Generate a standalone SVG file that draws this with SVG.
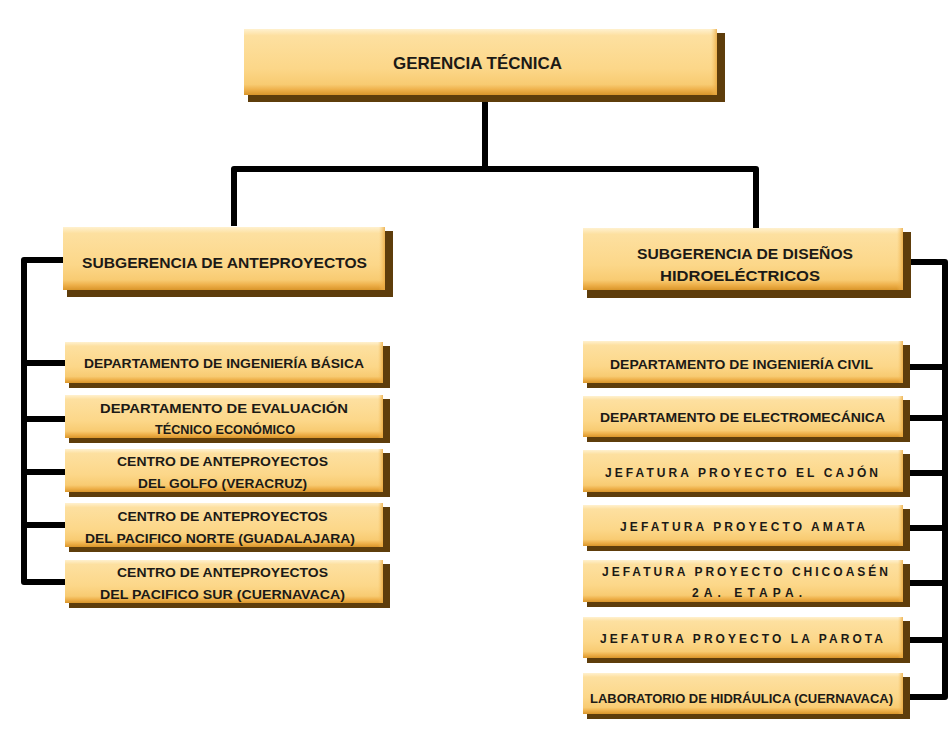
<svg xmlns="http://www.w3.org/2000/svg" width="948" height="740" viewBox="0 0 948 740">
  <style>
    .shadow { fill: #5e3d0b; }
    .face { fill: url(#faceFill); }
    .rim { fill: url(#rimFill); }
    .label { font-family: "Liberation Sans", Arial, sans-serif; font-weight: bold; fill: #1c1a16; text-anchor: middle; }
    .big { font-size: 17px; }
    .mid { font-size: 15.5px; }
    .small { font-size: 12px; }
    .small13 { font-size: 13px; }
    .wire { fill: none; stroke: #000; stroke-width: 6; stroke-linejoin: round; }
  </style>
  <defs>
    <linearGradient id="faceFill" x1="0" y1="0" x2="0" y2="1">
      <stop offset="0" stop-color="#fff1cf"/>
      <stop offset="0.1" stop-color="#fde0a0"/>
      <stop offset="0.6" stop-color="#fcd789"/>
      <stop offset="0.84" stop-color="#f8cb72"/>
      <stop offset="0.92" stop-color="#eeb04a"/>
      <stop offset="1" stop-color="#d9952a"/>
    </linearGradient>
    <linearGradient id="rimFill" x1="0" y1="0" x2="1" y2="0">
      <stop offset="0" stop-color="#f3bd5c" stop-opacity="0"/>
      <stop offset="1" stop-color="#eaa83f" stop-opacity="0.8"/>
    </linearGradient>
  </defs>

  <rect width="948" height="740" fill="#ffffff"/>

  <!-- connectors -->
  <g id="connectors">
    <path class="wire" d="M485 100 V169"/>
    <path class="wire" d="M234 226 V169 H756 V228"/>
    <path class="wire" d="M63 260 H24 V582 H65"/>
    <path class="wire" d="M24 363 H65 M24 419 H65 M24 472 H65 M24 525 H65"/>
    <path class="wire" d="M910 262 H945 V697 H910"/>
    <path class="wire" d="M910 367 H945 M910 418 H945 M910 473 H945 M910 528 H945 M910 583 H945 M910 640 H945"/>
  </g>

  <!-- top level -->
  <g id="gerencia-tecnica">
    <rect class="shadow" x="248" y="33" width="477" height="69"/>
    <rect class="face" x="244" y="29" width="473" height="66"/>
    <rect class="rim" x="711" y="29" width="6" height="66"/>
    <text class="label big" x="477.5" y="69" textLength="169" lengthAdjust="spacingAndGlyphs">GERENCIA TÉCNICA</text>
  </g>

  <!-- second level -->
  <g id="subgerencia-anteproyectos">
    <rect class="shadow" x="67" y="231" width="326" height="66"/>
    <rect class="face" x="63" y="227" width="322" height="63"/>
    <rect class="rim" x="379" y="227" width="6" height="63"/>
    <text class="label mid" x="224.5" y="267.5" textLength="285" lengthAdjust="spacingAndGlyphs">SUBGERENCIA DE ANTEPROYECTOS</text>
  </g>
  <g id="subgerencia-disenos">
    <rect class="shadow" x="587" y="232" width="324" height="66"/>
    <rect class="face" x="583" y="228" width="320" height="62"/>
    <rect class="rim" x="897" y="228" width="6" height="62"/>
    <text class="label mid" x="745" y="258.5" textLength="216" lengthAdjust="spacingAndGlyphs">SUBGERENCIA DE DISEÑOS</text>
    <text class="label mid" x="740" y="280.5" textLength="160" lengthAdjust="spacingAndGlyphs">HIDROELÉCTRICOS</text>
  </g>

  <!-- departments under anteproyectos -->
  <g id="depto-ingenieria-basica">
    <rect class="shadow" x="69" y="346" width="321" height="42"/>
    <rect class="face" x="65" y="342" width="318" height="41"/>
    <rect class="rim" x="378" y="342" width="5" height="41"/>
    <text class="label small" x="224" y="368" textLength="280" lengthAdjust="spacingAndGlyphs">DEPARTAMENTO DE INGENIERÍA BÁSICA</text>
  </g>
  <g id="depto-evaluacion">
    <rect class="shadow" x="69" y="399" width="321" height="44"/>
    <rect class="face" x="65" y="395" width="318" height="43"/>
    <rect class="rim" x="378" y="395" width="5" height="43"/>
    <text class="label small" x="224" y="413" textLength="248" lengthAdjust="spacingAndGlyphs">DEPARTAMENTO DE EVALUACIÓN</text>
    <text class="label small13" x="225" y="434" textLength="140" lengthAdjust="spacingAndGlyphs">TÉCNICO ECONÓMICO</text>
  </g>
  <g id="centro-golfo">
    <rect class="shadow" x="69" y="453" width="321" height="44"/>
    <rect class="face" x="65" y="449" width="318" height="43"/>
    <rect class="rim" x="378" y="449" width="5" height="43"/>
    <text class="label small" x="222.5" y="466" textLength="211" lengthAdjust="spacingAndGlyphs">CENTRO DE ANTEPROYECTOS</text>
    <text class="label small" x="222.5" y="488" textLength="169" lengthAdjust="spacingAndGlyphs">DEL GOLFO (VERACRUZ)</text>
  </g>
  <g id="centro-pacifico-norte">
    <rect class="shadow" x="69" y="507" width="321" height="45"/>
    <rect class="face" x="65" y="503" width="318" height="44"/>
    <rect class="rim" x="378" y="503" width="5" height="44"/>
    <text class="label small" x="222.5" y="521" textLength="210" lengthAdjust="spacingAndGlyphs">CENTRO DE ANTEPROYECTOS</text>
    <text class="label small" x="220" y="543" textLength="270" lengthAdjust="spacingAndGlyphs">DEL PACIFICO NORTE (GUADALAJARA)</text>
  </g>
  <g id="centro-pacifico-sur">
    <rect class="shadow" x="69" y="564" width="321" height="44"/>
    <rect class="face" x="65" y="560" width="318" height="43"/>
    <rect class="rim" x="378" y="560" width="5" height="43"/>
    <text class="label small" x="222.5" y="577" textLength="211" lengthAdjust="spacingAndGlyphs">CENTRO DE ANTEPROYECTOS</text>
    <text class="label small" x="222.5" y="599" textLength="245" lengthAdjust="spacingAndGlyphs">DEL PACIFICO SUR (CUERNAVACA)</text>
  </g>

  <!-- departments under diseños hidroeléctricos -->
  <g id="depto-ingenieria-civil">
    <rect class="shadow" x="587" y="345" width="323" height="43"/>
    <rect class="face" x="583" y="341" width="320" height="42"/>
    <rect class="rim" x="898" y="341" width="5" height="42"/>
    <text class="label small" x="741.5" y="369" textLength="263" lengthAdjust="spacingAndGlyphs">DEPARTAMENTO DE INGENIERÍA CIVIL</text>
  </g>
  <g id="depto-electromecanica">
    <rect class="shadow" x="587" y="400" width="323" height="42"/>
    <rect class="face" x="583" y="396" width="320" height="41"/>
    <rect class="rim" x="898" y="396" width="5" height="41"/>
    <text class="label small" x="742.5" y="422" textLength="285" lengthAdjust="spacingAndGlyphs">DEPARTAMENTO DE ELECTROMECÁNICA</text>
  </g>
  <g id="jefatura-el-cajon">
    <rect class="shadow" x="587" y="454" width="323" height="43"/>
    <rect class="face" x="583" y="450" width="320" height="42"/>
    <rect class="rim" x="898" y="450" width="5" height="42"/>
    <text class="label small" x="741.5" y="477" textLength="273" lengthAdjust="spacing">JEFATURA PROYECTO EL CAJÓN</text>
  </g>
  <g id="jefatura-amata">
    <rect class="shadow" x="587" y="509" width="323" height="42"/>
    <rect class="face" x="583" y="505" width="320" height="41"/>
    <rect class="rim" x="898" y="505" width="5" height="41"/>
    <text class="label small" x="742.5" y="531" textLength="245" lengthAdjust="spacing">JEFATURA PROYECTO AMATA</text>
  </g>
  <g id="jefatura-chicoasen">
    <rect class="shadow" x="587" y="564" width="323" height="43"/>
    <rect class="face" x="583" y="560" width="320" height="42"/>
    <rect class="rim" x="898" y="560" width="5" height="42"/>
    <text class="label small" x="745" y="576" textLength="286" lengthAdjust="spacing">JEFATURA PROYECTO CHICOASÉN</text>
    <text class="label small" x="747" y="597" textLength="110" lengthAdjust="spacing">2A. ETAPA.</text>
  </g>
  <g id="jefatura-la-parota">
    <rect class="shadow" x="587" y="621" width="323" height="42"/>
    <rect class="face" x="583" y="617" width="320" height="41"/>
    <rect class="rim" x="898" y="617" width="5" height="41"/>
    <text class="label small" x="741.5" y="643" textLength="283" lengthAdjust="spacing">JEFATURA PROYECTO LA PAROTA</text>
  </g>
  <g id="laboratorio-hidraulica">
    <rect class="shadow" x="587" y="677" width="323" height="42"/>
    <rect class="face" x="583" y="673" width="320" height="41"/>
    <rect class="rim" x="898" y="673" width="5" height="41"/>
    <text class="label small" x="741.5" y="703" textLength="303" lengthAdjust="spacingAndGlyphs">LABORATORIO DE HIDRÁULICA (CUERNAVACA)</text>
  </g>
</svg>
